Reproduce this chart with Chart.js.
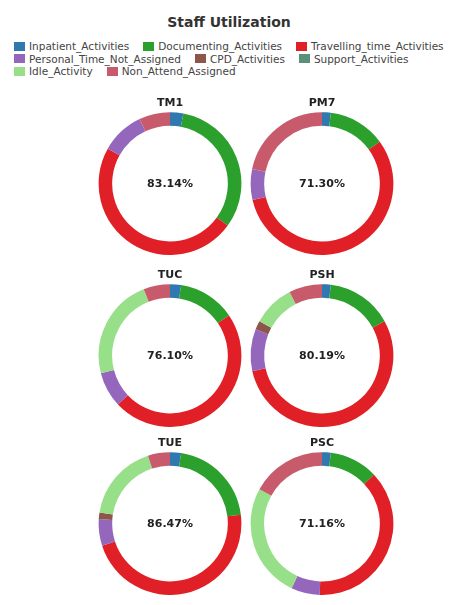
<!DOCTYPE html>
<html>
<head>
<meta charset="utf-8">
<script src="https://cdn.jsdelivr.net/npm/chart.js@4.4.1/dist/chart.umd.min.js"></script>
<style>
  html,body{margin:0;padding:0;background:#fff;width:458px;height:605px;overflow:hidden;font-family:"DejaVu Sans",Arial,sans-serif;}
  #title{position:absolute;left:0;top:14px;width:458px;text-align:center;font-size:14px;font-weight:bold;color:#333;}
  #legend{position:absolute;left:14px;top:40px;width:444px;display:flex;flex-wrap:wrap;font-size:10.5px;color:#444;line-height:12.5px;}
  .item{display:flex;align-items:center;margin-right:14px;white-space:nowrap;}
  .box{width:11px;height:9px;margin-right:4px;display:inline-block;}
  .donut{position:absolute;width:150px;height:161px;}
</style>
</head>
<body>
<div id="title">Staff Utilization</div>
<div id="legend"></div>
<div class="donut" style="left:95px;top:94px"><canvas id="c0"></canvas></div>
<div class="donut" style="left:247px;top:94px"><canvas id="c1"></canvas></div>
<div class="donut" style="left:95px;top:266px"><canvas id="c2"></canvas></div>
<div class="donut" style="left:247px;top:266px"><canvas id="c3"></canvas></div>
<div class="donut" style="left:95px;top:434px"><canvas id="c4"></canvas></div>
<div class="donut" style="left:247px;top:434px"><canvas id="c5"></canvas></div>
<script>
const categories = ["Inpatient_Activities","Documenting_Activities","Travelling_time_Activities","Personal_Time_Not_Assigned","CPD_Activities","Support_Activities","Idle_Activity","Non_Attend_Assigned"];
const colors = ["#2f78b0","#2ca02c","#e02026","#9467bd","#8c564b","#5a8f78","#98df8a","#c75b6c"];
const staff = ["TM1","PM7","TUC","PSH","TUE","PSC"];
const centerLabels = ["83.14%","71.30%","76.10%","80.19%","86.47%","71.16%"];
const valsTM1 = [3.0, 32.0, 48.14, 9.86, 0, 0, 0, 7.0];
const valsPM7 = [2.0, 13.0, 56.3, 7.0, 0, 0, 0, 21.7];
const valsTUC = [2.5, 13.0, 47.5, 8.0, 0, 0, 23.0, 6.0];
const valsPSH = [2.0, 15.0, 54.5, 9.5, 2.0, 0, 9.5, 7.5];
const valsTUE = [2.5, 20.5, 47.0, 6.0, 1.5, 0, 17.5, 5.0];
const valsPSC = [2.0, 11.0, 37.5, 6.5, 0, 0, 26.0, 17.0];
const allVals = [valsTM1, valsPM7, valsTUC, valsPSH, valsTUE, valsPSC];

const leg = document.getElementById('legend');
categories.forEach((c,i)=>{
  const d=document.createElement('div');d.className='item';
  d.innerHTML='<span class="box" style="background:'+colors[i]+'"></span>'+c;
  leg.appendChild(d);
});

const centerText = {
  id:'centerText',
  afterDraw(chart){
    const m = chart.getDatasetMeta(0).data[0];
    if(!m) return;
    const ctx=chart.ctx;
    ctx.save();
    ctx.font='bold 11px "DejaVu Sans", Arial, sans-serif';
    ctx.fillStyle='#222';ctx.textAlign='center';ctx.textBaseline='middle';
    ctx.fillText(chart.options.plugins.centerText.text, m.x, m.y+1);
    ctx.restore();
  }
};

allVals.forEach((vals,k)=>{
  new Chart(document.getElementById('c'+k), {
    type:'doughnut',
    data:{labels:categories, datasets:[{data:vals, backgroundColor:colors, borderWidth:0}]},
    options:{
      responsive:true, maintainAspectRatio:false, animation:false,
      cutout:'81%',
      layout:{padding:0},
      plugins:{
        legend:{display:false},
        tooltip:{enabled:false},
        title:{display:true, text:staff[k], font:{size:11,weight:'bold',family:'"DejaVu Sans", Arial, sans-serif'}, color:'#222', padding:{top:3,bottom:2}},
        centerText:{text:centerLabels[k]}
      }
    },
    plugins:[centerText]
  });
});
</script>
</body>
</html>
